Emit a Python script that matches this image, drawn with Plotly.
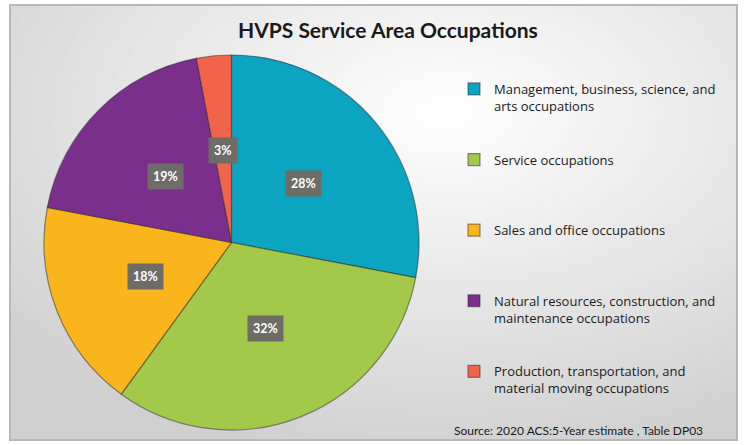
import math
import plotly.graph_objects as go

# ---- data ----
categories = [
    "Management, business, science, and<br>arts occupations",
    "Service occupations",
    "Sales and office occupations",
    "Natural resources, construction, and<br>maintenance occupations",
    "Production, transportation, and<br>material moving occupations",
]
values = [28, 32, 18, 19, 3]
colors = ["#0ba5c1", "#a3c94a", "#fbb51c", "#7b2f8d", "#f1634a"]
title_text = "HVPS Service Area Occupations"
source_text = "Source: 2020 ACS:5-Year estimate , Table DP03"

W, H = 744, 445
FONT = "Lato"
LEG_FONT = "Open Sans"

# pie geometry (pixels)
cx, cy, R = 231.5, 242.5, 187.5
dom_x = [(cx - R) / W, (cx + R) / W]
dom_y = [(H - cy - R) / H, (H - cy + R) / H]

# pad legend entries to equal height (4 lines)
legend_labels = []
for c in categories:
    n = c.count("<br>") + 1
    legend_labels.append(c + "<br> " * (4 - n))

fig = go.Figure()
fig.add_trace(go.Pie(
    labels=legend_labels,
    values=values,
    sort=False,
    direction="clockwise",
    rotation=0,
    marker=dict(colors=colors, line=dict(color="rgba(40,40,40,0.5)", width=1.2)),
    textinfo="none",
    hoverinfo="percent",
    domain=dict(x=dom_x, y=dom_y),
))

# data labels in boxes at mid-angle of each slice
total = sum(values)
cum = 0
annotations = []
for v in values:
    mid = 2 * math.pi * (cum + v / 2) / total
    cum += v
    r = 0.495 * R
    px = cx + r * math.sin(mid)
    py = cy - r * math.cos(mid)
    annotations.append(dict(
        x=px / W, y=1 - py / H, xref="paper", yref="paper",
        xanchor="center", yanchor="middle",
        text="<b>%d%%</b>" % round(100 * v / total), showarrow=False,
        font=dict(family=FONT, size=12.5, color="white"),
        bgcolor="#6e6c67", borderpad=5,
    ))

annotations.append(dict(
    x=388 / W, y=1 - 30 / H, xref="paper", yref="paper",
    xanchor="center", yanchor="middle",
    text="<b>" + title_text + "</b>", showarrow=False,
    font=dict(family=FONT, size=21, color="#1a1a1a"),
))
annotations.append(dict(
    x=705 / W, y=1 - 430 / H, xref="paper", yref="paper",
    xanchor="right", yanchor="middle",
    text=source_text, showarrow=False,
    font=dict(family=FONT, size=12, color="#1a1a1a"),
))

bg_svg = (
    "data:image/svg+xml;utf8,"
    "<svg xmlns='http://www.w3.org/2000/svg' width='744' height='445'>"
    "<defs><radialGradient id='g' cx='0.6' cy='0.25' r='0.8'>"
    "<stop offset='0' stop-color='%23ffffff'/>"
    "<stop offset='1' stop-color='%23d0d0d0'/>"
    "</radialGradient></defs>"
    "<rect x='0' y='0' width='744' height='445' fill='url(%23g)'/>"
    "</svg>"
)

fig.update_layout(
    width=W, height=H,
    margin=dict(l=0, r=0, t=0, b=0),
    paper_bgcolor="white",
    plot_bgcolor="white",
    showlegend=True,
    legend=dict(
        x=454 / W, y=1 - 74 / H, xanchor="left", yanchor="top",
        font=dict(family=LEG_FONT, size=13, color="#1a1a1a"),
        valign="top", bgcolor="rgba(0,0,0,0)",
    ),
    annotations=annotations,
    images=[dict(
        source=bg_svg, xref="paper", yref="paper",
        x=10 / W, y=1 - 5 / H, sizex=727 / W, sizey=435 / H,
        xanchor="left", yanchor="top", sizing="stretch", layer="below",
    )],
    shapes=[dict(
        type="rect", xref="paper", yref="paper",
        x0=10 / W, x1=737 / W, y0=1 - 440 / H, y1=1 - 5 / H,
        line=dict(color="#b8b8b8", width=2), layer="above",
    )],
)

fig.write_html("out.html", config={"displayModeBar": False},
               post_script="document.body.style.margin='0px';")
